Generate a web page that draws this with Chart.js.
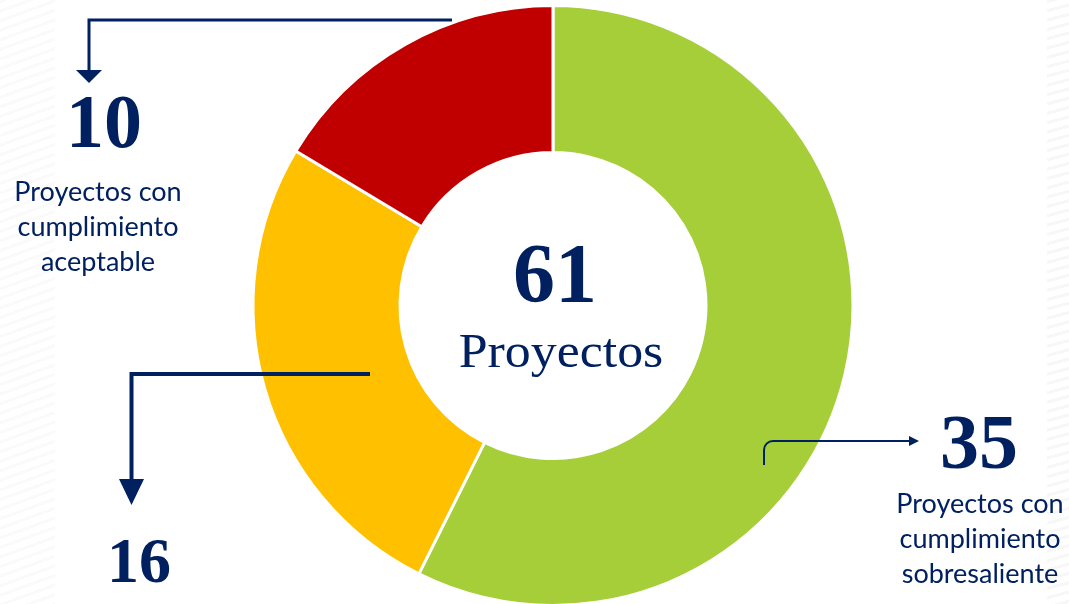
<!DOCTYPE html>
<html>
<head>
<meta charset="utf-8">
<script src="https://cdn.jsdelivr.net/npm/chart.js@4.4.0/dist/chart.umd.min.js"></script>
<style>
  html, body { margin: 0; padding: 0; background: #ffffff; overflow: hidden; }
  #wrap { position: relative; width: 1069px; height: 604px; overflow: hidden; }
  .waves { position: absolute; top: 0; bottom: 0; }
  .waves.left { left: 0; width: 55px;
    background: repeating-linear-gradient(160deg, rgba(0,0,0,0.02) 0 3px, rgba(0,0,0,0) 3px 9px); }
  .waves.right { right: 0; width: 22px;
    background: repeating-linear-gradient(165deg, rgba(0,0,0,0.03) 0 3px, rgba(0,0,0,0) 3px 9px); }
  canvas { position: absolute; left: 0; top: 0; }
</style>
</head>
<body>
<div id="wrap">
  <div class="waves left"></div>
  <div class="waves right"></div>
  <canvas id="donut" width="1069" height="607"></canvas>
</div>
<script>
// ---- data ----
const categories = ['Cumplimiento sobresaliente', 'Sin etiqueta', 'Cumplimiento aceptable'];
const counts = [35, 16, 10];
const sliceColors = ['#A6CE39', '#FFC000', '#C00000'];

const centerNumber = '61';
const centerLabel = 'Proyectos';

const NAVY = '#002060';
const SERIF = "'Liberation Serif', 'DejaVu Serif', serif";
const SANS = "Lato, 'Liberation Sans', sans-serif";

// callouts: number + description lines
const callouts = [
  { value: '10', x: 104, y: 147, size: 76, lines: ['Proyectos con', 'cumplimiento', 'aceptable'], lx: 98, ly: 201 },
  { value: '16', x: 139, y: 582, size: 64, lines: [], lx: 0, ly: 0 },
  { value: '35', x: 979, y: 468, size: 78, lines: ['Proyectos con', 'cumplimiento', 'sobresaliente'], lx: 980, ly: 513 }
];

function arrowHead(ctx, pts) {
  ctx.beginPath();
  ctx.moveTo(pts[0][0], pts[0][1]);
  ctx.lineTo(pts[1][0], pts[1][1]);
  ctx.lineTo(pts[2][0], pts[2][1]);
  ctx.closePath();
  ctx.fill();
}

const overlayPlugin = {
  id: 'overlay',
  afterDraw(chart) {
    const ctx = chart.ctx;
    const meta = chart.getDatasetMeta(0);
    const cx = meta.data[0].x;
    ctx.save();
    ctx.fillStyle = NAVY;
    ctx.strokeStyle = NAVY;
    ctx.textAlign = 'center';
    ctx.textBaseline = 'alphabetic';

    // centre text
    ctx.font = 'bold 84px ' + SERIF;
    ctx.fillText(centerNumber, cx + 2, 302);
    ctx.save();
    ctx.translate(cx + 8, 367);
    ctx.scale(1.08, 1);
    ctx.font = '48px ' + SERIF;
    ctx.fillText(centerLabel, 0, 0);
    ctx.restore();

    // callout numbers and descriptions
    callouts.forEach(c => {
      ctx.font = 'bold ' + c.size + 'px ' + SERIF;
      ctx.fillText(c.value, c.x, c.y);
      ctx.font = '27px ' + SANS;
      c.lines.forEach((t, i) => ctx.fillText(t, c.lx, c.ly + i * 35));
    });

    // connector arrows
    ctx.lineJoin = 'miter';
    ctx.lineWidth = 3;
    ctx.beginPath();
    ctx.moveTo(452, 20);
    ctx.lineTo(89, 20);
    ctx.lineTo(89, 72);
    ctx.stroke();
    arrowHead(ctx, [[76, 70], [102, 70], [89, 83]]);

    ctx.lineWidth = 4;
    ctx.beginPath();
    ctx.moveTo(370, 374);
    ctx.lineTo(131.5, 374);
    ctx.lineTo(131.5, 482);
    ctx.stroke();
    arrowHead(ctx, [[119, 479], [144, 479], [131.5, 505]]);

    ctx.lineWidth = 2;
    ctx.beginPath();
    ctx.moveTo(764, 465);
    ctx.lineTo(764, 450);
    ctx.arcTo(764, 441, 773, 441, 9);
    ctx.lineTo(910, 441);
    ctx.stroke();
    arrowHead(ctx, [[909, 436], [919, 441], [909, 446]]);

    ctx.restore();
  }
};

new Chart(document.getElementById('donut'), {
  type: 'doughnut',
  data: {
    labels: categories,
    datasets: [{
      data: counts,
      backgroundColor: sliceColors,
      borderColor: '#ffffff',
      borderWidth: 3
    }]
  },
  options: {
    responsive: false,
    animation: false,
    cutout: '51%',
    rotation: 0,
    layout: { padding: { left: 37, top: 4, right: 0, bottom: 0 } },
    plugins: {
      legend: { display: false },
      tooltip: { enabled: false }
    }
  },
  plugins: [overlayPlugin]
});
</script>
</body>
</html>
